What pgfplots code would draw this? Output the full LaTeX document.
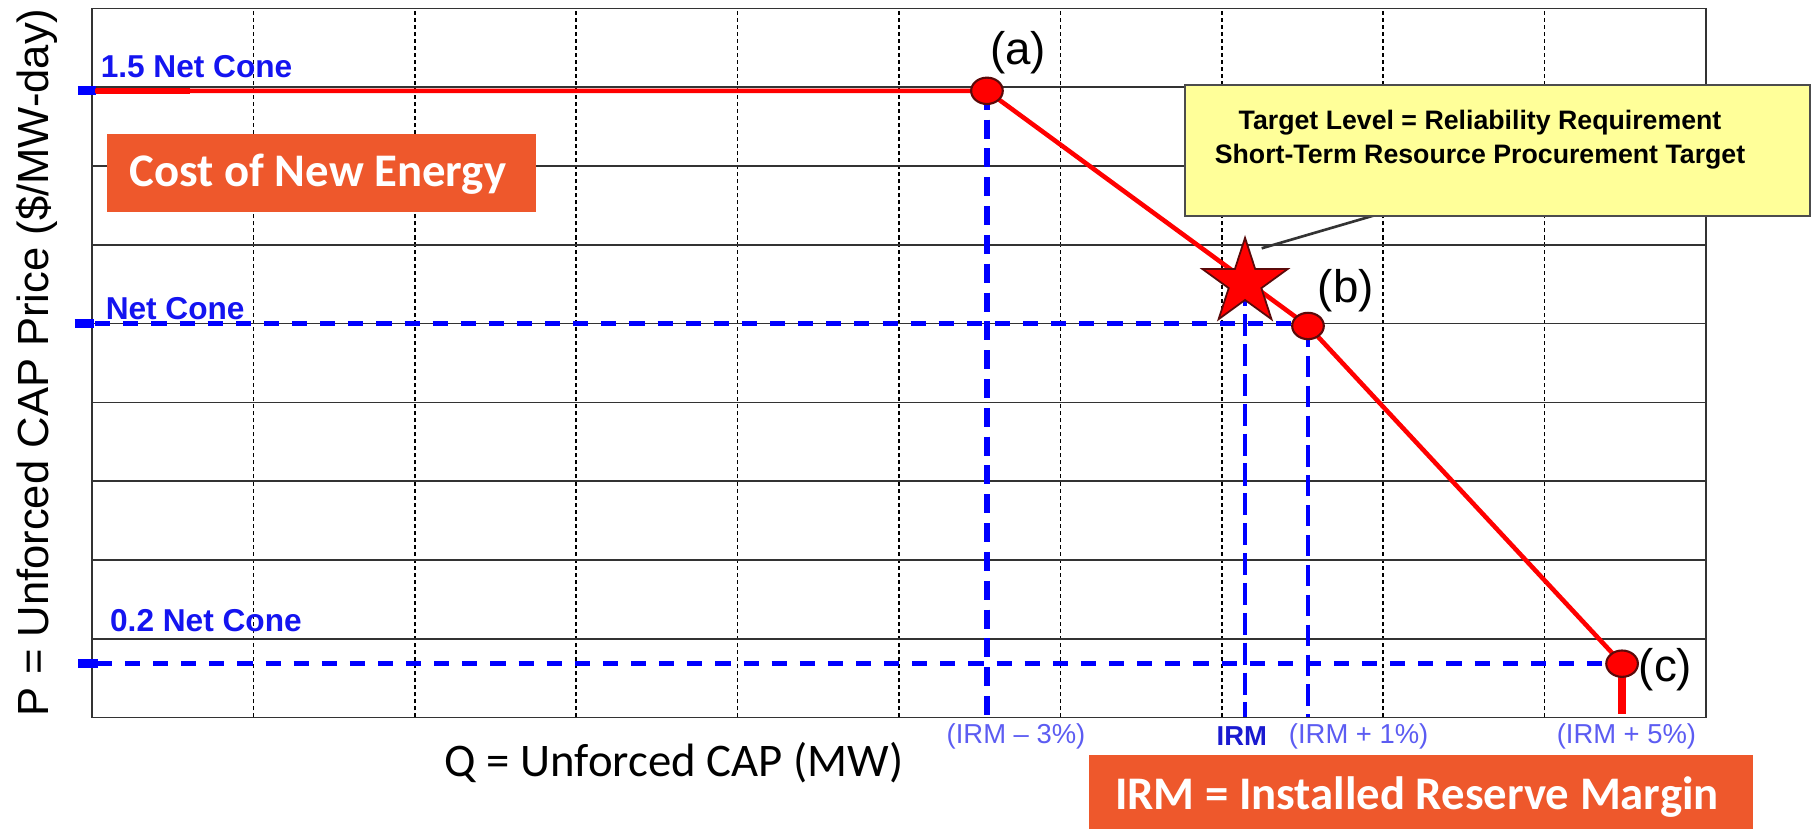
\documentclass[border=0pt]{standalone}
\usepackage{fontspec}
\setmainfont{Liberation Sans}
\newfontfamily\carlito{Carlito}
\usepackage{pgfplots}
\pgfplotsset{compat=1.18}
\definecolor{lineRed}{HTML}{FF0000}
\definecolor{dotEdge}{HTML}{5A0A0A}
\definecolor{dashBlue}{HTML}{0000FF}
\definecolor{lblBlue}{HTML}{1414F0}
\definecolor{irmBlue}{HTML}{5C5CF2}
\definecolor{irmBold}{HTML}{1A1AD0}
\definecolor{boxOrange}{HTML}{EE582C}
\definecolor{noteYellow}{HTML}{FFFF99}
\definecolor{gridGray}{HTML}{333333}

\pgfdeclareplotmark{fivestar}{%
  \pgfpathmoveto{\pgfpointpolar{90}{\pgfplotmarksize}}%
  \pgfpathlineto{\pgfpointpolar{126}{0.382*\pgfplotmarksize}}%
  \pgfpathlineto{\pgfpointpolar{162}{\pgfplotmarksize}}%
  \pgfpathlineto{\pgfpointpolar{198}{0.382*\pgfplotmarksize}}%
  \pgfpathlineto{\pgfpointpolar{234}{\pgfplotmarksize}}%
  \pgfpathlineto{\pgfpointpolar{270}{0.382*\pgfplotmarksize}}%
  \pgfpathlineto{\pgfpointpolar{306}{\pgfplotmarksize}}%
  \pgfpathlineto{\pgfpointpolar{342}{0.382*\pgfplotmarksize}}%
  \pgfpathlineto{\pgfpointpolar{18}{\pgfplotmarksize}}%
  \pgfpathlineto{\pgfpointpolar{54}{0.382*\pgfplotmarksize}}%
  \pgfpathclose
  \pgfusepathqfillstroke}

\begin{document}
\begin{tikzpicture}
\begin{axis}[
  width=16.14cm, height=7.09cm, scale only axis,
  xmin=0, xmax=10, ymin=0, ymax=9,
  xtick={1,...,9}, ytick={1,...,8},
  xticklabels={}, yticklabels={},
  major tick length=0pt,
  xmajorgrids, ymajorgrids,
  x grid style={black, line width=0.42pt, dash pattern=on 1.15pt off 0.85pt},
  y grid style={gridGray, line width=0.5pt},
  axis line style={gridGray, line width=0.55pt},
  clip=false,
  ylabel={P = Unforced CAP Price (\$/MW-day)},
  ylabel style={at={(rel axis cs:-0.034,0.501)}, anchor=center, font=\fontsize{12.4}{14}\selectfont},
  xlabel={Q = Unforced CAP (MW)},
  xlabel style={at={(rel axis cs:0.3606,-0.064)}, anchor=center, font=\carlito\fontsize{13.3}{16}\selectfont},
]
% bounding box corners
\coordinate (BBll) at (axis cs:-0.570,-1.415);
\coordinate (BBur) at (axis cs:10.663,9.108);

% blue dashed reference lines
\addplot[dashBlue, line width=1.5pt, dash pattern=on 4.3pt off 3.7pt] coordinates {(0.02,5) (7.534,5)};
\addplot[dashBlue, line width=1.5pt, dash pattern=on 4.3pt off 3.7pt] coordinates {(0.03,0.69) (9.48,0.69)};
\addplot[dashBlue, line width=1.75pt, dash pattern=on 5.4pt off 2.8pt] coordinates {(5.545,7.955) (5.545,0)};
\addplot[dashBlue, line width=1.25pt, dash pattern=on 6.3pt off 2.2pt] coordinates {(7.144,5.5) (7.144,0)};
\addplot[dashBlue, line width=1.3pt, dash pattern=on 6pt off 2.5pt] coordinates {(7.534,4.97) (7.534,0)};

% blue tick squares on the price axis
\addplot[dashBlue, line width=2.56pt] coordinates {(-0.087,7.96) (0.025,7.96)};
\addplot[dashBlue, line width=2.56pt] coordinates {(-0.108,5.0) (0.011,5.0)};
\addplot[dashBlue, line width=2.56pt] coordinates {(-0.084,0.69) (0.035,0.69)};

% red demand curve
\addplot[lineRed, line width=1.3pt] coordinates {(0.02,7.955) (5.545,7.955) (7.534,4.97) (9.48,0.683)};
\addplot[lineRed, line width=1.75pt] coordinates {(0.025,7.955) (0.61,7.955)};
\addplot[lineRed, line width=2.1pt] coordinates {(9.48,0.683) (9.48,0.044)};

% callout pointer
\addplot[black!80, line width=0.75pt] coordinates {(7.247,5.956) (7.947,6.375)};

% star (target level)
\addplot[only marks, mark=fivestar, mark size=12.8pt, mark options={fill=lineRed, draw=dotEdge, line width=0.5pt}] coordinates {(7.144,5.518)};

% points (a), (b), (c)
\addplot[only marks, mark=*, mark size=3.75pt, mark options={fill=lineRed, draw=dotEdge, line width=0.6pt, xscale=1.2}] coordinates {(5.545,7.955) (7.534,4.97) (9.48,0.683)};

% point labels
\node[font=\fontsize{13}{15}\selectfont] at (axis cs:5.737,8.435) {(a)};
\node[font=\fontsize{13}{15}\selectfont] at (axis cs:7.768,5.414) {(b)};
\node[font=\fontsize{13}{15}\selectfont] at (axis cs:9.749,0.603) {(c)};

% price level labels
\node[anchor=base west, inner sep=0pt, text=lblBlue, font=\bfseries\fontsize{9}{11}\selectfont] at (axis cs:0.05,8.13) {1.5 Net Cone};
\node[anchor=base west, inner sep=0pt, text=lblBlue, font=\bfseries\fontsize{9}{11}\selectfont] at (axis cs:0.081,5.046) {Net Cone};
\node[anchor=base west, inner sep=0pt, text=lblBlue, font=\bfseries\fontsize{9}{11}\selectfont] at (axis cs:0.108,1.089) {0.2 Net Cone};

% quantity labels
\node[text=irmBlue, font=\fontsize{7.8}{9}\selectfont] at (axis cs:5.725,-0.244) {(IRM – 3\%)};
\node[text=irmBold, font=\bfseries\fontsize{7.8}{9}\selectfont] at (axis cs:7.124,-0.232) {IRM};
\node[text=irmBlue, font=\fontsize{7.8}{9}\selectfont] at (axis cs:7.848,-0.244) {(IRM + 1\%)};
\node[text=irmBlue, font=\fontsize{7.8}{9}\selectfont] at (axis cs:9.507,-0.244) {(IRM + 5\%)};

% orange boxes
\fill[boxOrange] (axis cs:0.093,7.407) rectangle (axis cs:2.751,6.417);
\node[anchor=base, text=white, font=\carlito\bfseries\fontsize{13.3}{16}\selectfont] at (axis cs:1.40,6.738) {Cost of New Energy};
\fill[boxOrange] (axis cs:6.177,-0.476) rectangle (axis cs:10.291,-1.415);
\node[anchor=base, text=white, font=\carlito\bfseries\fontsize{13.3}{16}\selectfont] at (axis cs:8.209,-1.174) {IRM = Installed Reserve Margin};

% yellow note
\draw[fill=noteYellow, draw=black!70, line width=0.5pt] (axis cs:6.772,8.029) rectangle (axis cs:10.644,6.366);
\node[align=center, font=\bfseries\fontsize{7.6}{9.7}\selectfont] at (axis cs:8.60,7.33) {Target Level = Reliability Requirement\\Short-Term Resource Procurement Target};
\end{axis}
\pgfresetboundingbox
\useasboundingbox (BBll) rectangle (BBur);
\end{tikzpicture}
\end{document}
